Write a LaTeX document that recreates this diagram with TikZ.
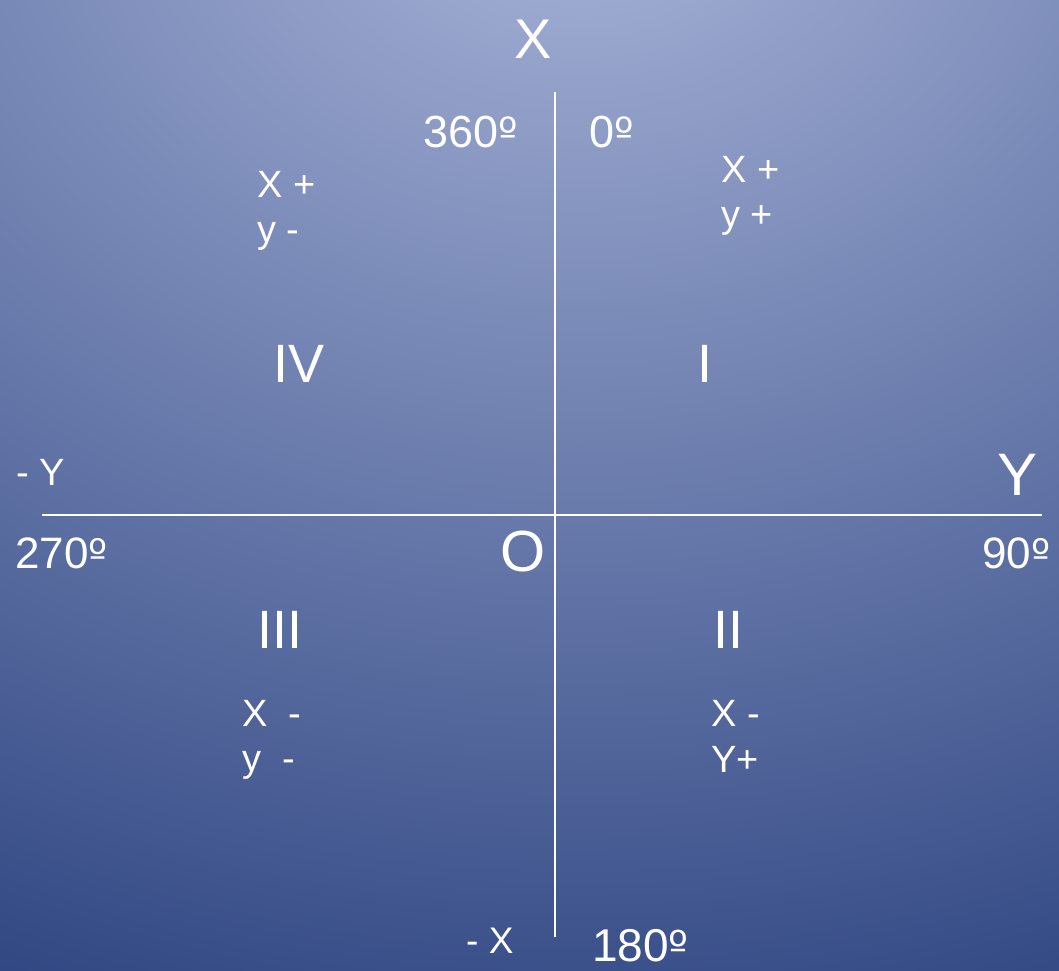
\documentclass[tikz,border=0pt]{standalone}
\usepackage{fontspec}
\setmainfont{Liberation Sans}
\newfontfamily\ordfont{DejaVu Sans}[Scale=0.92]
\newcommand{\dg}{{\ordfont º}}
\pgfdeclareradialshading{bgshade}{\pgfpoint{0bp}{0bp}}{rgb(0bp)=(0.667,0.714,0.855); rgb(25bp)=(0.169,0.259,0.498); rgb(50bp)=(0.169,0.259,0.498)}
\tikzset{
  lbl/.style={anchor=base west, inner sep=0pt, text=white},
  axis/.style={draw=white, line width=2.6pt},
}
\newcommand{\fs}[1]{\fontsize{#1}{#1}\selectfont}
\begin{document}
\begin{tikzpicture}[x=1pt,y=-1pt]
\useasboundingbox (0,0) rectangle (1059,970);
\begin{scope}
  \clip (0,0) rectangle (1059,970);
  \shade[shading=bgshade] (580,-150) ellipse [x radius=1550pt, y radius=1280pt];
\end{scope}
% axes
\coordinate (top) at (555,92);
\coordinate (bot) at (555,937);
\coordinate (lft) at (42,515);
\coordinate (rgt) at (1042,515);
\draw[axis] (top) -- (bot);
\draw[axis] (lft) -- (rgt);
% axis labels
\node[lbl, font=\fs{56}] (bigX) at (514,58) {X};
\node[lbl, font=\fs{60}] (bigY) at (997,495) {Y};
\node[lbl, font=\fs{58}] (origin) at (500,571) {O};
\node[lbl, font=\fs{38}] (negY) at (16,485) {- Y};
\node[lbl, font=\fs{37}] (negX) at (466,953) {- X};
% angles
\node[lbl, font=\fs{45}] (a360) at (423,147) {360\dg};
\node[lbl, font=\fs{45}] (a0) at (589,147) {0\dg};
\node[lbl, font=\fs{44}] (a270) at (15,568) {270\dg};
\node[lbl, font=\fs{44}] (a90) at (982,568) {90\dg};
\node[lbl, font=\fs{46}] (a180) at (592,961) {180\dg};
% quadrant numerals
\node[lbl, font=\fs{54}] (qIV) at (273,382) {IV};
\node[lbl, font=\fs{54}] (qI) at (697,382) {I};
\node[lbl, font=\fs{54}] (qIII) at (257,648) {III};
\node[lbl, font=\fs{54}] (qII) at (713,648) {II};
% signs
\node[lbl, font=\fs{38}] (s1a) at (721,182) {X +};
\node[lbl, font=\fs{38}] (s1b) at (721,227) {y +};
\node[lbl, font=\fs{38}] (s4a) at (257,197) {X +};
\node[lbl, font=\fs{38}] (s4b) at (257,242) {y -};
\node[lbl, font=\fs{38}] (s3a) at (242,726) {X\ \ -};
\node[lbl, font=\fs{38}] (s3b) at (242,771) {y\ \ -};
\node[lbl, font=\fs{38}] (s2a) at (711,726) {X -};
\node[lbl, font=\fs{38}] (s2b) at (711,772) {Y+};
\end{tikzpicture}
\end{document}
